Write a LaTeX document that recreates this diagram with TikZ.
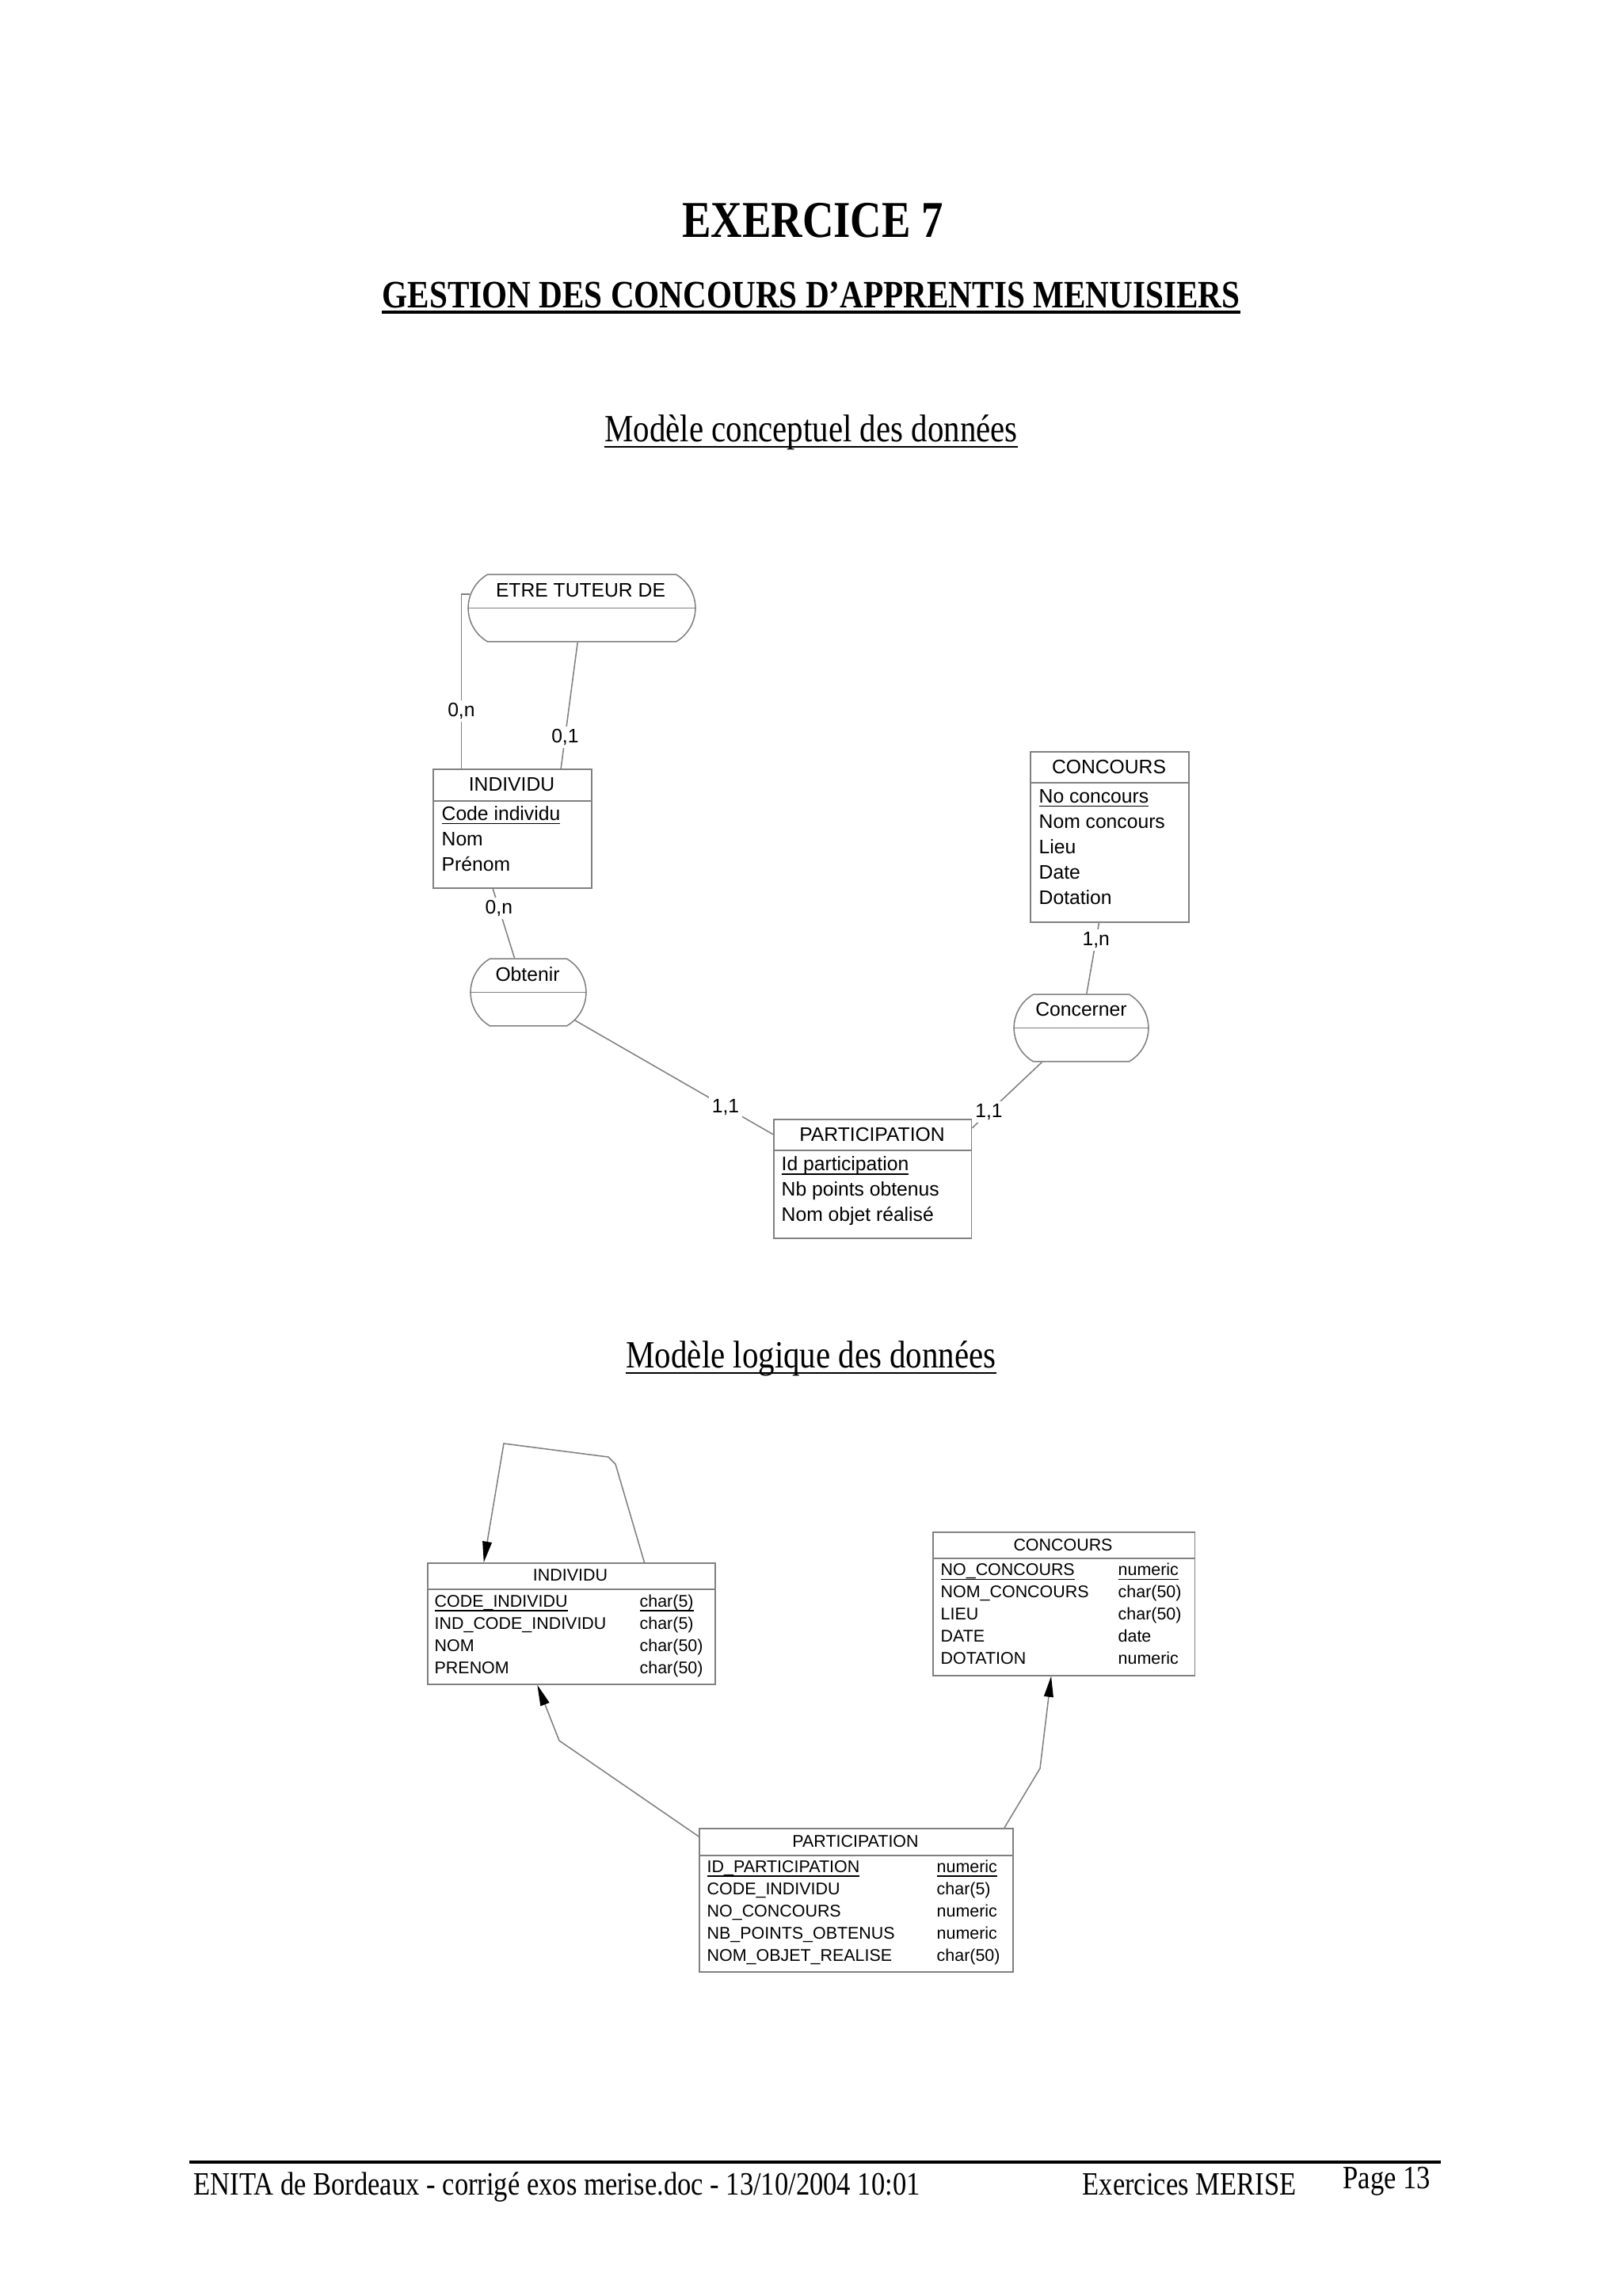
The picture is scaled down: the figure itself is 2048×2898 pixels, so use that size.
\documentclass[tikz,border=0pt]{standalone}
\usepackage{fontspec}
\setmainfont{Liberation Sans}
\newfontfamily\pagefont[FakeStretch=0.84]{Liberation Serif}
\usetikzlibrary{arrows.meta,shapes.misc,positioning}

% identifiant souligne, sans tenir compte des jambages
\newcommand\cleprim[1]{\underline{\smash{#1}}}

\tikzset{
  ent/.style={draw=gray, line width=0.45pt, rectangle, anchor=north west, inner sep=0pt},
  assoc/.style={draw=gray, line width=0.45pt, rounded rectangle, rounded rectangle arc length=120, inner sep=0pt},
  ttl/.style={anchor=base, inner sep=0pt, font=\fontsize{7.2}{8.6}\selectfont},
  txt/.style={anchor=base west, inner sep=0pt, font=\fontsize{7.2}{8.6}\selectfont},
  lttl/.style={anchor=base, inner sep=0pt, font=\fontsize{6.25}{7.5}\selectfont},
  ltxt/.style={anchor=base west, inner sep=0pt, font=\fontsize{6.25}{7.5}\selectfont},
  card/.style={fill=white, inner sep=1pt, font=\fontsize{7.2}{8.6}\selectfont},
  link/.style={draw=gray, line width=0.45pt},
  fk/.style={link, -{Triangle[length=2.7mm,width=1.2mm,color=black]}},
  page/.style={inner sep=0pt, font=\pagefont\fontsize{12}{14}\selectfont}
}

\begin{document}
\begin{tikzpicture}[x=0.1025mm, y=-0.1025mm]
  \fill[white] (0,0) rectangle (2048,2898);
  \useasboundingbox (0,0) rectangle (2048,2898);

  % titres
  \node[anchor=base, inner sep=0pt, font=\pagefont\bfseries\fontsize{19}{22}\selectfont] (exo) at (1026,300) {EXERCICE 7};
  \node[anchor=base, inner sep=0pt, font=\pagefont\bfseries\fontsize{14.3}{17}\selectfont] (sujet) at (1024,388) {GESTION DES CONCOURS D’APPRENTIS MENUISIERS};
  \draw[line width=1pt] ([yshift=-0.6mm]sujet.base west) -- ([yshift=-0.6mm]sujet.base east);
  \node[anchor=base, inner sep=0pt, font=\pagefont\fontsize{14.2}{17}\selectfont] (mcd) at (1024,557) {Modèle conceptuel des données};
  \draw[line width=0.6pt] ([yshift=-0.7mm]mcd.base west) -- ([yshift=-0.7mm]mcd.base east);
  \node[anchor=base, inner sep=0pt, font=\pagefont\fontsize{14.2}{17}\selectfont] (mld) at (1024,1726) {Modèle logique des données};
  \draw[line width=0.6pt] ([yshift=-0.7mm]mld.base west) -- ([yshift=-0.7mm]mld.base east);

  % MCD : associations
  \node[assoc, minimum width=29.4mm, minimum height=8.7mm] (etre) at (734.5,767.5) {};
  \draw[link] (etre.west) -- (etre.east);
  \node[ttl] (etre-t) at (733,753) {ETRE TUTEUR DE};
  \node[assoc, minimum width=14.95mm, minimum height=8.7mm] (obtenir) at (667,1252.5) {};
  \draw[link] (obtenir.west) -- (obtenir.east);
  \node[ttl] (obtenir-t) at (666,1238) {Obtenir};
  \node[assoc, minimum width=17.4mm, minimum height=8.7mm] (concerner) at (1365,1297.5) {};
  \draw[link] (concerner.west) -- (concerner.east);
  \node[ttl] (concerner-t) at (1365,1282) {Concerner};

  % MCD : entites
  \node[ent, minimum width=20.5mm, minimum height=15.375mm] (indiv) at (546,970) {};
  \draw[link] (indiv.north west) ++(0,41) -- ++(200,0);
  \node[ttl] (indiv-t) at (646,998) {INDIVIDU};
  \foreach \a [count=\i] in {\cleprim{Code individu},Nom,Prénom}
    \node[txt] (indiv-\i) at (557,1003+32*\i) {\a};

  \node[ent, minimum width=20.5mm, minimum height=22.04mm] (concours) at (1300,948) {};
  \draw[link] (concours.north west) ++(0,40) -- ++(200,0);
  \node[ttl] (concours-t) at (1400,976) {CONCOURS};
  \foreach \a [count=\i] in {\cleprim{No concours},Nom concours,Lieu,Date,Dotation}
    \node[txt] (concours-\i) at (1311,981+32*\i) {\a};

  \node[ent, minimum width=25.6mm, minimum height=15.375mm] (partc) at (976,1412) {};
  \draw[link] (partc.north west) ++(0,40) -- ++(250,0);
  \node[ttl] (partc-t) at (1101,1440) {PARTICIPATION};
  \foreach \a [count=\i] in {\cleprim{Id participation},Nb points obtenus,Nom objet réalisé}
    \node[txt] (partc-\i) at (986,1445+32*\i) {\a};

  % MCD : pattes
  \draw[link] (etre.173) -- ++(-11,0) coordinate (k1) -- (k1 |- indiv.north) node[card, pos=.67] {0,n};
  \draw[link] (etre.-97) -- (indiv.51) node[card, pos=.75] {0,1};
  \draw[link] (indiv.-108) -- (obtenir.112) node[card, pos=.28] {0,n};
  \draw[link] (obtenir.-31) -- (partc.156) node[card, pos=.76] {1,1};
  \draw[link] (concerner.-139) -- (partc.27) node[card, pos=.76] {1,1};
  \draw[link] (concours.-97) -- (concerner.81) node[card, pos=.24] {1,n};

  % MLD : tables
  \node[ent, minimum width=37.2mm, minimum height=15.7mm] (tindiv) at (539,1972) {};
  \draw[link] (tindiv.north west) ++(0,34) -- ++(363,0);
  \node[lttl] (tindiv-t) at (720,1995) {INDIVIDU};
  \foreach \n/\t [count=\i] in {\cleprim{CODE\_INDIVIDU}/\cleprim{char(5)},IND\_CODE\_INDIVIDU/char(5),NOM/char(50),PRENOM/char(50)} {
    \node[ltxt] (tindiv-n\i) at (548,2000+28*\i) {\n};
    \node[ltxt] (tindiv-c\i) at (807,2000+28*\i) {\t};
  }

  \node[ent, minimum width=33.9mm, minimum height=18.55mm] (tconc) at (1177,1933) {};
  \draw[link] (tconc.north west) ++(0,34) -- ++(331,0);
  \node[lttl] (tconc-t) at (1342,1957) {CONCOURS};
  \foreach \n/\t [count=\i] in {\cleprim{NO\_CONCOURS}/\cleprim{numeric},NOM\_CONCOURS/char(50),LIEU/char(50),DATE/date,DOTATION/numeric} {
    \node[ltxt] (tconc-n\i) at (1187,1961+27.8*\i) {\n};
    \node[ltxt] (tconc-c\i) at (1411,1961+27.8*\i) {\t};
  }

  \node[ent, minimum width=40.6mm, minimum height=18.55mm] (tpart) at (882,2307) {};
  \draw[link] (tpart.north west) ++(0,35) -- ++(396,0);
  \node[lttl] (tpart-t) at (1080,2331) {PARTICIPATION};
  \foreach \n/\t [count=\i] in {\cleprim{ID\_PARTICIPATION}/\cleprim{numeric},CODE\_INDIVIDU/char(5),NO\_CONCOURS/numeric,NB\_POINTS\_OBTENUS/numeric,NOM\_OBJET\_REALISE/char(50)} {
    \node[ltxt] (tpart-n\i) at (892,2335+28*\i) {\n};
    \node[ltxt] (tpart-c\i) at (1182,2335+28*\i) {\t};
  }

  % MLD : references
  \draw[fk] (tindiv.40) -- (777,1848) -- (768,1839) -- (636,1822) -- (tindiv.145);
  \draw[fk] (tpart.158) -- (706,2197) -- (tindiv.-119);
  \draw[fk] (tpart.26) -- (1313,2232) -- (tconc.-100);

  % pied de page
  \draw[line width=1pt] (239,2729) -- (1819,2729);
  \node[page, anchor=base west] (pied) at (244,2770) {ENITA de Bordeaux - corrigé exos merise.doc - 13/10/2004 10:01};
  \node[page, anchor=base west] (serie) at (1366,2770) {Exercices MERISE};
  \node[page, anchor=base west] (numero) at (1695,2762) {Page 13};
\end{tikzpicture}
\end{document}
